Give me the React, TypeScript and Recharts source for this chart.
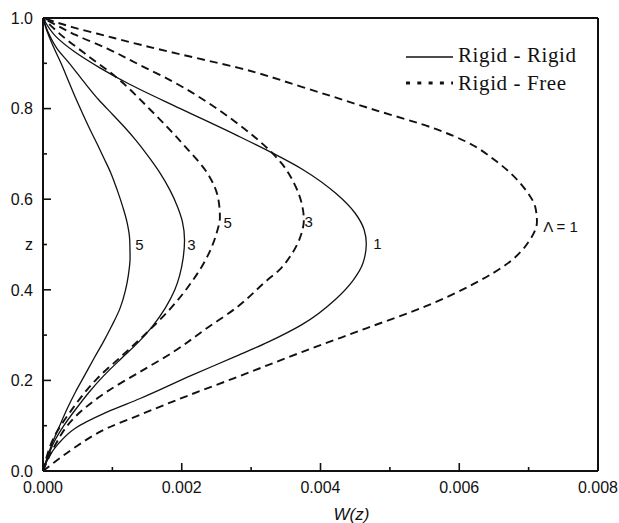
import { LineChart, Line, XAxis, YAxis, ReferenceLine, ReferenceDot, Legend } from 'recharts';

// W(z) profiles, z from bottom wall (0) to top (1)
const rigidRigid1 = [
  { z: 0, w: 0 }, { z: 0.035, w: 0.0001 }, { z: 0.06, w: 0.00022 }, { z: 0.094, w: 0.00046 },
  { z: 0.13, w: 0.00092 }, { z: 0.16, w: 0.0014 }, { z: 0.211, w: 0.00214 }, { z: 0.252, w: 0.00276 },
  { z: 0.285, w: 0.00325 }, { z: 0.322, w: 0.00372 }, { z: 0.381, w: 0.00423 }, { z: 0.421, w: 0.00447 },
  { z: 0.458, w: 0.00461 }, { z: 0.502, w: 0.00466 }, { z: 0.532, w: 0.00463 }, { z: 0.569, w: 0.0045 },
  { z: 0.613, w: 0.00422 }, { z: 0.664, w: 0.00376 }, { z: 0.701, w: 0.00332 }, { z: 0.742, w: 0.00278 },
  { z: 0.8, w: 0.00198 }, { z: 0.856, w: 0.00122 }, { z: 0.89, w: 0.00082 }, { z: 0.926, w: 0.00045 },
  { z: 0.96, w: 0.00018 }, { z: 1, w: 0 },
];

const rigidRigid3 = [
  { z: 0, w: 0 }, { z: 0.03, w: 0.00007 }, { z: 0.064, w: 0.00016 }, { z: 0.1, w: 0.0003 },
  { z: 0.138, w: 0.00048 }, { z: 0.175, w: 0.00067 }, { z: 0.211, w: 0.00088 }, { z: 0.25, w: 0.00114 },
  { z: 0.285, w: 0.00138 }, { z: 0.32, w: 0.00158 }, { z: 0.359, w: 0.00176 }, { z: 0.4, w: 0.0019 },
  { z: 0.432, w: 0.00197 }, { z: 0.47, w: 0.00202 }, { z: 0.51, w: 0.00204 }, { z: 0.55, w: 0.00201 },
  { z: 0.583, w: 0.00194 }, { z: 0.62, w: 0.00183 }, { z: 0.657, w: 0.00169 }, { z: 0.69, w: 0.00154 },
  { z: 0.73, w: 0.00134 }, { z: 0.76, w: 0.00117 }, { z: 0.786, w: 0.00101 }, { z: 0.82, w: 0.0008 },
  { z: 0.86, w: 0.000585 }, { z: 0.9, w: 0.00038 }, { z: 0.933, w: 0.0002 }, { z: 0.97, w: 0.00007 },
  { z: 1, w: 0 },
];

const rigidRigid5 = [
  { z: 0, w: 0 }, { z: 0.03, w: 0.00006 }, { z: 0.064, w: 0.00014 }, { z: 0.1, w: 0.00024 },
  { z: 0.138, w: 0.00035 }, { z: 0.175, w: 0.00047 }, { z: 0.211, w: 0.0006 }, { z: 0.25, w: 0.00074 },
  { z: 0.285, w: 0.00087 }, { z: 0.32, w: 0.00099 }, { z: 0.359, w: 0.00111 }, { z: 0.4, w: 0.00119 },
  { z: 0.432, w: 0.00123 }, { z: 0.47, w: 0.001255 }, { z: 0.51, w: 0.00125 }, { z: 0.55, w: 0.00121 },
  { z: 0.583, w: 0.00115 }, { z: 0.62, w: 0.00107 }, { z: 0.657, w: 0.00098 }, { z: 0.69, w: 0.00088 },
  { z: 0.719, w: 0.00079 }, { z: 0.75, w: 0.00069 }, { z: 0.786, w: 0.00058 }, { z: 0.82, w: 0.00048 },
  { z: 0.86, w: 0.00037 }, { z: 0.9, w: 0.00026 }, { z: 0.933, w: 0.00016 }, { z: 0.97, w: 0.00006 },
  { z: 1, w: 0 },
];

const rigidFree1 = [
  { z: 0, w: 0 }, { z: 0.02, w: 0.00017 }, { z: 0.05, w: 0.00044 }, { z: 0.094, w: 0.00092 },
  { z: 0.123, w: 0.00138 }, { z: 0.167, w: 0.0021 }, { z: 0.204, w: 0.00274 }, { z: 0.263, w: 0.00374 },
  { z: 0.315, w: 0.00466 }, { z: 0.364, w: 0.00552 }, { z: 0.414, w: 0.00622 }, { z: 0.462, w: 0.00673 },
  { z: 0.506, w: 0.007 }, { z: 0.55, w: 0.00712 }, { z: 0.58, w: 0.0071 }, { z: 0.624, w: 0.00694 },
  { z: 0.683, w: 0.00654 }, { z: 0.727, w: 0.0061 }, { z: 0.755, w: 0.00566 }, { z: 0.8, w: 0.00472 },
  { z: 0.848, w: 0.00373 }, { z: 0.89, w: 0.00282 }, { z: 0.905, w: 0.0024 }, { z: 0.922, w: 0.00192 },
  { z: 0.94, w: 0.00143 }, { z: 0.96, w: 0.00092 }, { z: 0.98, w: 0.00042 }, { z: 1, w: 0 },
];

const rigidFree3 = [
  { z: 0, w: 0 }, { z: 0.05, w: 0.00015 }, { z: 0.116, w: 0.00044 }, { z: 0.175, w: 0.00092 },
  { z: 0.219, w: 0.0014 }, { z: 0.263, w: 0.00188 }, { z: 0.315, w: 0.00236 }, { z: 0.362, w: 0.0028 },
  { z: 0.421, w: 0.00323 }, { z: 0.443, w: 0.0034 }, { z: 0.48, w: 0.00359 }, { z: 0.517, w: 0.00371 },
  { z: 0.554, w: 0.00376 }, { z: 0.583, w: 0.00374 }, { z: 0.635, w: 0.00362 }, { z: 0.679, w: 0.00344 },
  { z: 0.701, w: 0.00331 }, { z: 0.771, w: 0.00277 }, { z: 0.815, w: 0.00236 }, { z: 0.859, w: 0.00188 },
  { z: 0.896, w: 0.0014 }, { z: 0.933, w: 0.00092 }, { z: 0.962, w: 0.00048 }, { z: 0.982, w: 0.00022 },
  { z: 1, w: 0 },
];

const rigidFree5 = [
  { z: 0, w: 0 }, { z: 0.03, w: 0.00005 }, { z: 0.072, w: 0.00015 }, { z: 0.13, w: 0.00039 },
  { z: 0.204, w: 0.00078 }, { z: 0.256, w: 0.00115 }, { z: 0.303, w: 0.00148 }, { z: 0.359, w: 0.00184 },
  { z: 0.421, w: 0.00216 }, { z: 0.465, w: 0.00234 }, { z: 0.524, w: 0.0025 }, { z: 0.56, w: 0.00255 },
  { z: 0.598, w: 0.00253 }, { z: 0.655, w: 0.00238 }, { z: 0.716, w: 0.00205 }, { z: 0.797, w: 0.00155 },
  { z: 0.87, w: 0.00105 }, { z: 0.922, w: 0.0006 }, { z: 0.96, w: 0.00028 }, { z: 1, w: 0 },
];

const xTicks = [0, 0.001, 0.002, 0.003, 0.004, 0.005, 0.006, 0.007, 0.008];
const yTicks = [0, 0.1, 0.2, 0.3, 0.4, 0.5, 0.6, 0.7, 0.8, 0.9, 1.0];

const curveLabels = [
  { text: '5', w: 0.00133, z: 0.5 },
  { text: '3', w: 0.00208, z: 0.5 },
  { text: '5', w: 0.0026, z: 0.548 },
  { text: '3', w: 0.00377, z: 0.55 },
  { text: '1', w: 0.00476, z: 0.502 },
  { text: 'Λ = 1', w: 0.00721, z: 0.539 },
];

const legendItems = [
  { name: 'Rigid - Rigid', dashed: false },
  { name: 'Rigid - Free', dashed: true },
];

const SANS = 'Liberation Sans, Arial, sans-serif';
const SERIF = 'Liberation Serif, Times New Roman, serif';
const INK = '#111';
const X_GAP = 11;
const Y_GAP = 10;

const XTick = (props: any) => {
  const { x, y, payload } = props;
  const major = Math.round(payload.value * 1000) % 2 === 0;
  const y0 = y - X_GAP;
  return (
    <g>
      <path d={`M${x},${y0}V${y0 - (major ? 8 : 4)}`} stroke={INK} strokeWidth={1.6} fill="none" />
      {major && (
        <text x={x} y={y} dy="0.71em" textAnchor="middle" fontSize={16} style={{ fontFamily: SANS }} fill={INK}>
          {payload.value.toFixed(3)}
        </text>
      )}
    </g>
  );
};

const YTick = (props: any) => {
  const { x, y, payload } = props;
  const step = Math.round(payload.value * 10);
  const major = step % 2 === 0;
  const x0 = x + Y_GAP;
  let label: string | null = major ? payload.value.toFixed(1) : null;
  if (step === 5) label = 'z';
  return (
    <g>
      <path d={`M${x0},${y}H${x0 + (major ? 8 : 4)}`} stroke={INK} strokeWidth={1.6} fill="none" />
      {label && (
        <text x={x} y={y} dy="0.36em" textAnchor="end" fontSize={16} style={{ fontFamily: SANS }} fill={INK}>
          {label}
        </text>
      )}
    </g>
  );
};

const renderLegend = () => (
  <svg width={200} height={60}>
    {legendItems.map((item, i) => (
      <g key={item.name}>
        <line
          x1={6}
          x2={53}
          y1={17 + i * 26}
          y2={17 + i * 26}
          stroke={INK}
          strokeWidth={item.dashed ? 3 : 1.5}
          strokeDasharray={item.dashed ? '4 7.3' : undefined}
        />
        <text x={58} y={22 + i * 28} fontSize={21} letterSpacing={0.6} style={{ fontFamily: SERIF }} fill={INK}>
          {item.name}
        </text>
      </g>
    ))}
  </svg>
);

const solid = { stroke: INK, strokeWidth: 1.3 };
const dashed = { stroke: INK, strokeWidth: 1.9, strokeDasharray: '8 5' };

export default function App() {
  return (
    <div style={{ position: 'absolute', left: 0, top: 0, width: 619, height: 523, background: '#fff' }}>
      <LineChart width={619} height={523} layout="vertical" margin={{ top: 18, right: 21, left: 0, bottom: 0 }}>
        <XAxis
          type="number"
          domain={[0, 0.008]}
          ticks={xTicks}
          tick={<XTick />}
          tickLine={false}
          tickSize={0}
          tickMargin={X_GAP}
          height={52}
          axisLine={{ stroke: INK, strokeWidth: 2 }}
          allowDataOverflow
          label={{
            value: 'W(z)',
            position: 'insideBottom',
            offset: 3,
            dx: 31,
            fontSize: 17,
            fontStyle: 'italic',
            fontFamily: SANS,
            fill: INK,
          }}
        />
        <YAxis
          type="number"
          dataKey="z"
          domain={[0, 1]}
          ticks={yTicks}
          reversed
          tick={<YTick />}
          tickLine={false}
          tickSize={0}
          tickMargin={Y_GAP}
          width={43}
          axisLine={{ stroke: INK, strokeWidth: 2 }}
          allowDataOverflow
        />
        <ReferenceLine y={1} stroke={INK} strokeWidth={2} ifOverflow="visible" />
        <ReferenceLine x={0.008} stroke={INK} strokeWidth={2} ifOverflow="visible" />
        <Line data={rigidRigid1} dataKey="w" type="monotone" dot={false} {...solid} isAnimationActive={false} />
        <Line data={rigidRigid3} dataKey="w" type="monotone" dot={false} {...solid} isAnimationActive={false} />
        <Line data={rigidRigid5} dataKey="w" type="monotone" dot={false} {...solid} isAnimationActive={false} />
        <Line data={rigidFree1} dataKey="w" type="monotone" dot={false} {...dashed} isAnimationActive={false} />
        <Line data={rigidFree3} dataKey="w" type="monotone" dot={false} {...dashed} isAnimationActive={false} />
        <Line data={rigidFree5} dataKey="w" type="monotone" dot={false} {...dashed} isAnimationActive={false} />
        {curveLabels.map((c, i) => (
          <ReferenceDot
            key={i}
            x={c.w}
            y={c.z}
            r={0}
            fill="none"
            stroke="none"
            ifOverflow="visible"
            label={{ value: c.text, position: 'right', offset: 0, fontSize: 15, fontFamily: SANS, fill: INK }}
          />
        ))}
        <Legend
          verticalAlign="middle"
          align="center"
          layout="horizontal"
          wrapperStyle={{ left: 400, top: 40, width: 200, height: 60 }}
          content={renderLegend}
        />
      </LineChart>
    </div>
  );
}
